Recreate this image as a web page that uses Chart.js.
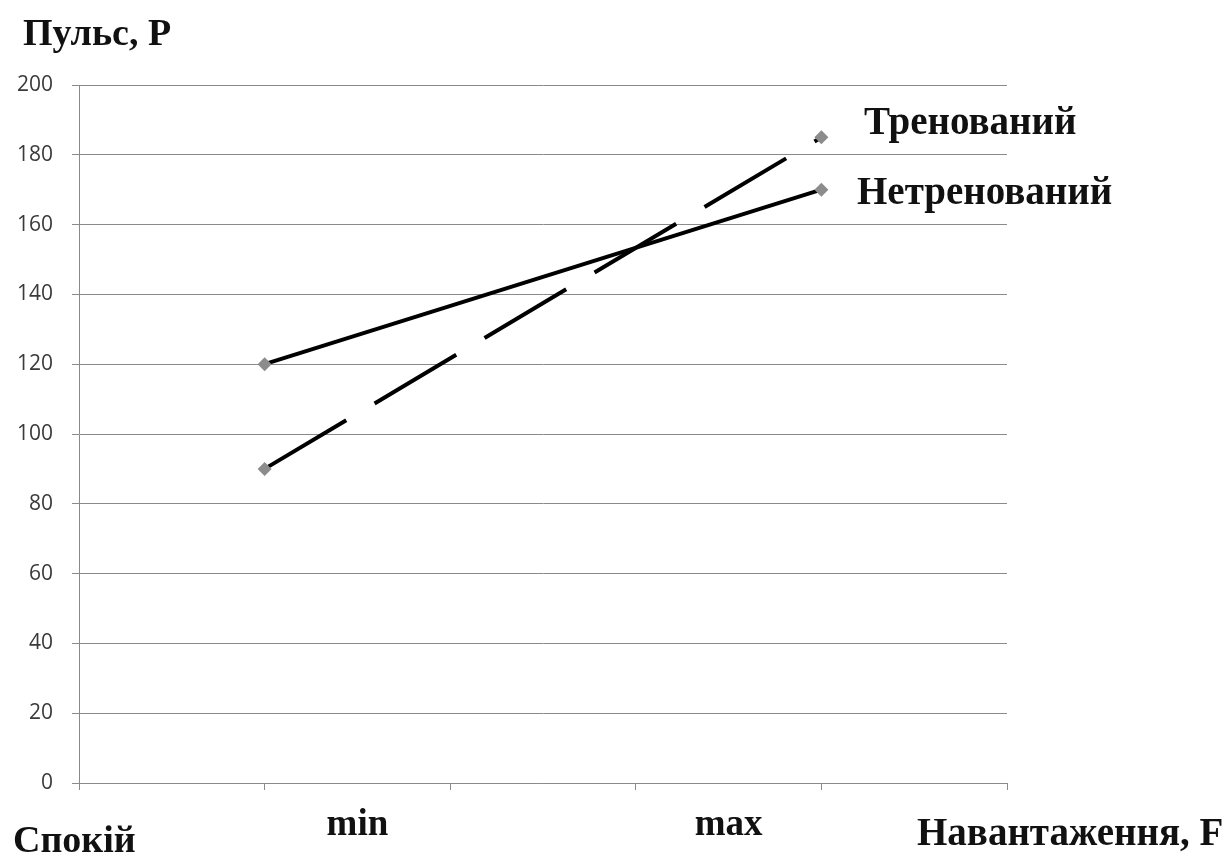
<!DOCTYPE html>
<html>
<head>
<meta charset="utf-8">
<script src="https://cdn.jsdelivr.net/npm/chart.js@4.4.0/dist/chart.umd.min.js"></script>
<style>
  html, body { margin: 0; padding: 0; background: #fff; }
  #wrap { position: relative; width: 1231px; height: 852px; overflow: hidden; }
  #chart { position: absolute; left: 0; top: 0; }
  .lbl { position: absolute; font-family: "Liberation Serif", "Times New Roman", serif; font-weight: bold; color: #111; white-space: nowrap; line-height: 1; }
</style>
</head>
<body>
<div id="wrap">
  <canvas id="chart" width="1231" height="852"></canvas>
  <div class="lbl" id="title" style="left:23px; top:13px; font-size:38px;">Пульс, Р</div>
  <div class="lbl" id="rest" style="left:13px; top:820px; font-size:38px;">Спокій</div>
  <div class="lbl" id="load" style="left:917px; top:812px; font-size:39px;">Навантаження, F</div>
  <div class="lbl" id="lblTrained" style="left:864px; top:101px; font-size:39px;">Тренований</div>
  <div class="lbl" id="lblUntrained" style="left:857px; top:171px; font-size:39px;">Нетренований</div>
</div>
<script>
// дані
const loadPoints = [1, 4];              // положення на осі X: min / max
const untrained = [120, 170];           // Нетренований
const trained = [90, 185];              // Тренований
const yTicks = [0, 20, 40, 60, 80, 100, 120, 140, 160, 180, 200];
const xLabelPos = [1.5, 3.5];
const xLabelText = ["min", "max"];

const gridColor = "#8a8a8a";

const ctx = document.getElementById("chart").getContext("2d");
new Chart(ctx, {
  type: "line",
  data: {
    datasets: [
      {
        label: "Нетренований",
        data: loadPoints.map((x, i) => ({ x: x, y: untrained[i] })),
        borderColor: "#000",
        borderWidth: 4,
        pointStyle: "rectRot",
        pointRadius: 7,
        pointBackgroundColor: "#8c8c8c",
        pointBorderColor: "#8c8c8c",
        pointBorderWidth: 0
      },
      {
        label: "Тренований",
        data: loadPoints.map((x, i) => ({ x: x, y: trained[i] })),
        borderColor: "#000",
        borderWidth: 4,
        borderDash: [95, 33],
        pointStyle: "rectRot",
        pointRadius: 7,
        pointBackgroundColor: "#8c8c8c",
        pointBorderColor: "#8c8c8c",
        pointBorderWidth: 0
      }
    ]
  },
  options: {
    responsive: false,
    animation: false,
    layout: { padding: { left: 0, top: 85, right: 224, bottom: 0 } },
    plugins: { legend: { display: false }, tooltip: { enabled: false } },
    scales: {
      x: {
        type: "linear",
        min: 0,
        max: 5,
        afterBuildTicks: s => {
          const t = [];
          for (let v = 0; v <= 5; v += 0.5) t.push({ value: v });
          s.ticks = t;
        },
        afterFit: s => { s.height = 69; },
        border: { display: true, color: gridColor, width: 1 },
        grid: {
          drawOnChartArea: false,
          drawTicks: true,
          tickLength: 7,
          tickColor: c => (c.tick && c.tick.value % 1 === 0) ? gridColor : "rgba(0,0,0,0)"
        },
        ticks: {
          autoSkip: false,
          maxRotation: 0,
          padding: 13,
          color: "#111",
          font: { family: "Liberation Serif", weight: "bold", size: 37 },
          callback: v => {
            const i = xLabelPos.indexOf(v);
            return i >= 0 ? xLabelText[i] : "";
          }
        }
      },
      y: {
        min: 0,
        max: 200,
        afterBuildTicks: s => { s.ticks = yTicks.map(v => ({ value: v })); },
        afterFit: s => { s.width = 79; },
        border: { display: true, color: gridColor, width: 1 },
        grid: { color: gridColor, lineWidth: 1, tickLength: 7 },
        ticks: {
          padding: 19,
          color: "#3a3a3a",
          font: { family: "Open Sans", size: 21 }
        }
      }
    }
  }
});
</script>
</body>
</html>
